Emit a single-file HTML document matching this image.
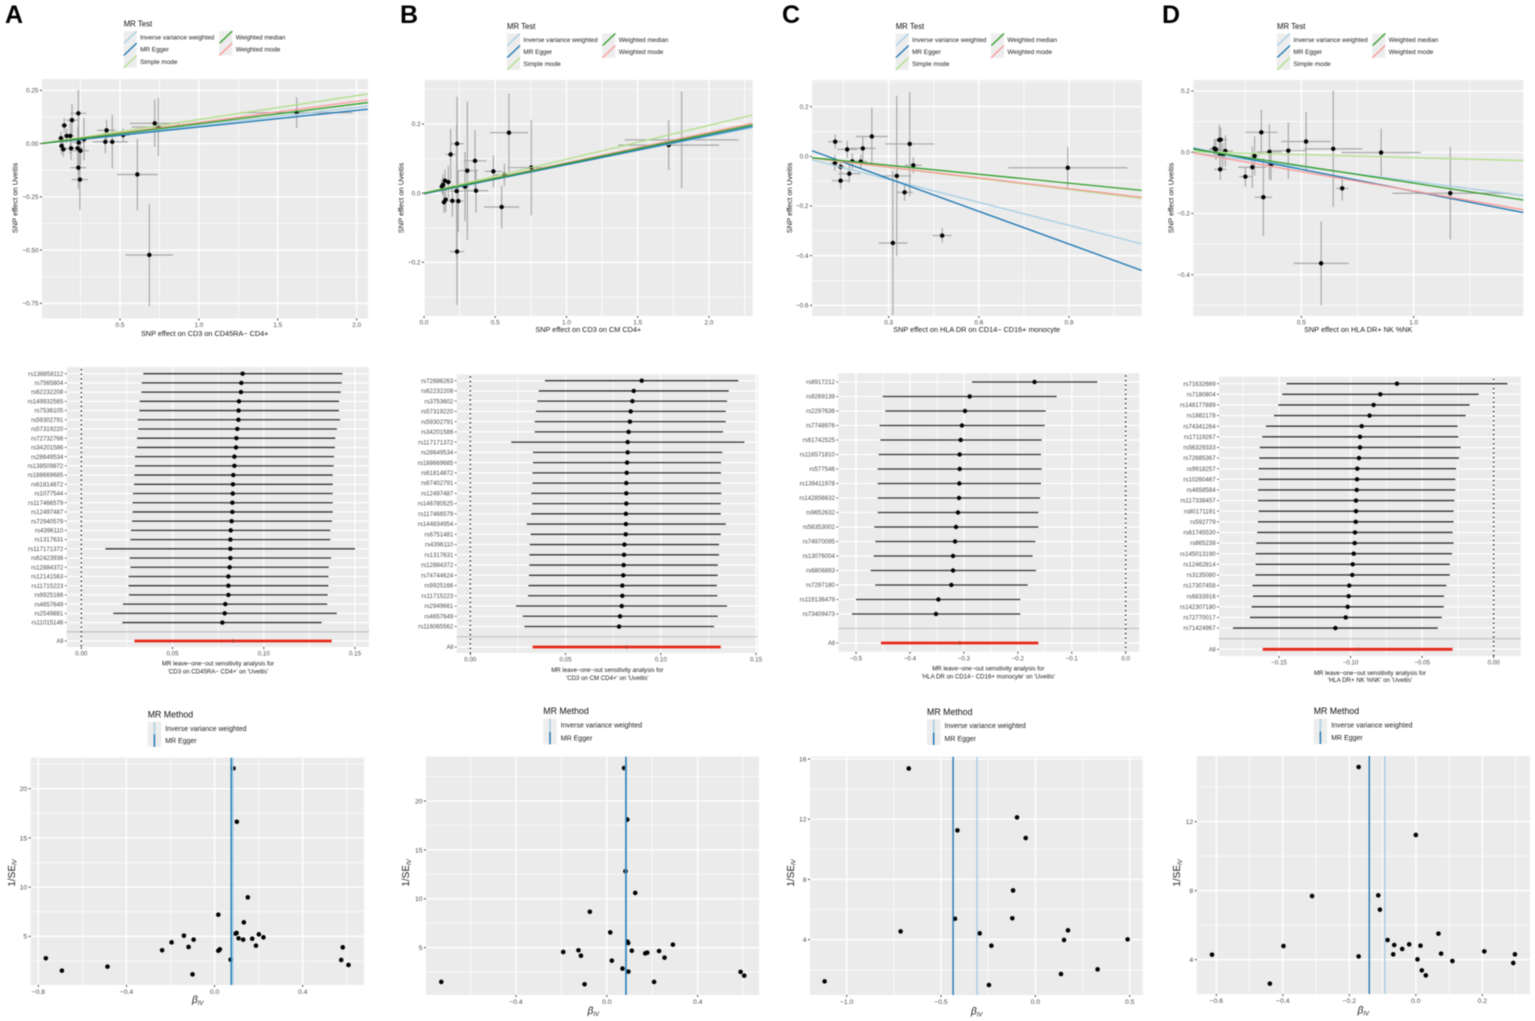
<!DOCTYPE html>
<html lang="en">
<head>
<meta charset="utf-8">
<title>MR scatter, leave-one-out and funnel plots</title>
<style>
html,body{margin:0;padding:0;background:#fff;}
svg{display:block;font-family:"Liberation Sans",Arial,sans-serif;filter:blur(0.4px);}
</style>
</head>
<body>
<svg id="figure" xmlns="http://www.w3.org/2000/svg" width="1535" height="1021" viewBox="0 0 1535 1021">
  <rect width="1535" height="1021" fill="#fff"/>
  <text x="5" y="23" font-size="25" font-weight="bold" fill="#000">A</text>
  <text x="400" y="23" font-size="25" font-weight="bold" fill="#000">B</text>
  <text x="782" y="23" font-size="25" font-weight="bold" fill="#000">C</text>
  <text x="1162" y="23" font-size="25" font-weight="bold" fill="#000">D</text>
  <g id="scatter-a"></g>
  <g id="scatter-b"></g>
  <g id="scatter-c"></g>
  <g id="scatter-d"></g>
  <g id="forest-a"></g>
  <g id="forest-b"></g>
  <g id="forest-c"></g>
  <g id="forest-d"></g>
  <g id="funnel-a"></g>
  <g id="funnel-b"></g>
  <g id="funnel-c"></g>
  <g id="funnel-d"></g>
</svg>
<script>
/* ---------- shared categories ---------- */
const lineMethods = ['Inverse variance weighted','MR Egger','Simple mode','Weighted median','Weighted mode'];
const funnelMethods = ['Inverse variance weighted','MR Egger'];

/* ---------- scatter A ---------- */
const aScatterX = [.686,.61,.72,1.62,.743,.415,.407,.451,.52,.236,.196,.147,.185,.162,.126,.238,.272,.13,.141,.19,.232,.249,.236,.246];
const aScatterY = [-.523,-.145,.095,.145,.078,.0625,.008,.008,.04,.142,.11,.085,.036,.036,.025,.005,.02,-.011,-.027,-.022,-.022,-.034,-.113,-.169];
const aScatterXErr = [.15,.129,.158,.355,.169,.06,.08,.1,.04,.05,.035,.02,.025,.02,.02,.04,.02,.017,.025,.04,.04,.053,.05,.052];
const aScatterYErr = [.24,.168,.11,.072,.137,.048,.053,.125,.03,.11,.075,.035,.085,.035,.03,.15,.1,.04,.035,.055,.1,.065,.1,.143];
const aLineSlopes = [.085,.078,.1125,.093,.099];
const aLineIntercepts = [0,0,0,0,0];
const aScatterXTicks = ['0.5','1.0','1.5','2.0'];
const aScatterYTicks = ['0.25','0.00','−0.25','−0.50','−0.75'];

/* ---------- scatter B ---------- */
const bScatterX = [1.717,1.808,.753,.596,.545,.564,.487,.358,.365,.304,.288,.232,.187,.232,.229,.241,.199,.147,.171,.133,.126,.152,.14];
const bScatterY = [.139,.154,.074,.175,-.04,.053,.063,.0935,.007,.065,.019,.143,.112,-.169,.006,-.023,-.022,.036,.032,.024,.019,-.019,-.026];
const bScatterXErr = [.354,.4,.164,.133,.124,.08,.06,.08,.085,.072,.028,.05,.035,.05,.047,.035,.028,.023,.023,.02,.019,.019,.019];
const bScatterYErr = [.072,.14,.138,.113,.062,.032,.046,.089,.063,.2,.1,.136,.074,.154,.193,.09,.046,.031,.047,.03,.02,.036,.031];
const bLineSlopes = [.0821,.0846,.098,.0857,.0878];
const bLineIntercepts = [0,-.002,0,0,0];
const bScatterXTicks = ['0.0','0.5','1.0','1.5','2.0'];
const bScatterYTicks = ['0.2','0.0','−0.2'];

/* ---------- scatter C ---------- */
const cScatterX = [.896,.478,.314,.327,.353,.37,.382,.244,.214,.162,.122,.121,.14,.14,.169,.179,.207];
const cScatterY = [-.046,-.319,-.349,-.079,-.145,.05,-.036,.08,.032,.028,.059,-.027,-.042,-.098,-.07,-.02,-.021];
const cScatterXErr = [.198,.032,.048,.049,.027,.081,.028,.053,.043,.033,.024,.013,.012,.029,.037,.017,.022];
const cScatterYErr = [.083,.03,.29,.323,.035,.21,.032,.116,.05,.035,.029,.032,.026,.034,.035,.032,.027];
const cLineSlopes = [-.3087,-.4393,-.148,-.12,-.1445];
const cLineIntercepts = [0,.0421,0,0,0];
const cScatterXTicks = ['0.3','0.6','0.9'];
const cScatterYTicks = ['0.2','0.0','−0.2','−0.4','−0.6'];

/* ---------- scatter D ---------- */
const dScatterX = [.588,1.163,.855,.642,.682,.521,.442,.358,.322,.331,.365,.292,.282,.251,.162,.141,.135,.113,.12,.139,.138,.15];
const dScatterY = [-.363,-.134,-.001,.011,-.118,.035,.005,.001,.065,-.147,-.041,-.012,-.049,-.08,.004,.041,.04,.012,.009,-.056,-.008,-.01];
const dScatterXErr = [.123,.258,.177,.13,.028,.11,.08,.056,.072,.039,.022,.018,.062,.027,.033,.03,.018,.022,.03,.027,.015,.015];
const dScatterYErr = [.137,.151,.078,.19,.04,.096,.092,.09,.073,.126,.051,.064,.068,.033,.051,.04,.05,.028,.034,.035,.046,.04];
const dLineSlopes = [-.0952,-.1431,-.0197,-.113,-.1265];
const dLineIntercepts = [0,.0157,.002,.012,0];
const dScatterXTicks = ['0.5','1.0'];
const dScatterYTicks = ['0.2','0.0','−0.2','−0.4'];

/* ---------- leave-one-out A ---------- */
const aForestSnps = ['rs138858112','rs7565804','rs62232208','rs149932565','rs7536105','rs59302791','rs57319220','rs72732766','rs34201586','rs28649534','rs138509872','rs188669685','rs61814872','rs1077544','rs117466579','rs12497487','rs72940579','rs4396110','rs1317631','rs117171372','rs62423936','rs12884372','rs12141563','rs11715223','rs9925166','rs4657649','rs2549881','rs11015146'];
const aForestEst = [.0884,.0877,.0875,.0864,.0862,.0861,.0855,.085,.0848,.0839,.0839,.0833,.0831,.083,.0828,.0828,.0824,.0819,.0817,.0817,.0817,.0813,.0806,.0806,.0806,.0789,.0786,.0773];
const aForestLo = [.034,.0331,.0329,.032,.0318,.0309,.0312,.0305,.0305,.0294,.0294,.0291,.0289,.0283,.0281,.0281,.0278,.0272,.0269,.0132,.0265,.0269,.0259,.0259,.0261,.0228,.0175,.0225];
const aForestHi = [.1431,.1427,.1422,.1412,.1412,.1418,.1401,.1392,.139,.1385,.1383,.1378,.1378,.1378,.1378,.1378,.1374,.1365,.1365,.15,.1369,.1356,.1354,.1354,.135,.1348,.14,.1317];
const aForestAll = [.0291,.0831,.1372];
const aForestTicks = ['0.00','0.05','0.10','0.15'];

/* ---------- leave-one-out B ---------- */
const bForestSnps = ['rs72686263','rs62232208','rs3753602','rs57319220','rs59302791','rs34201586','rs117171372','rs28649534','rs188669685','rs61814872','rs67402791','rs12497487','rs146780525','rs117466579','rs144834954','rs6751481','rs4396110','rs1317631','rs12884372','rs74744624','rs9925166','rs11715223','rs2949661','rs4657649','rs116065562'];
const bForestEst = [.09,.0858,.0851,.0842,.0838,.0831,.0826,.0826,.0823,.0821,.0819,.0819,.0819,.0817,.0817,.0816,.0809,.0807,.0805,.0803,.0798,.0798,.0795,.0786,.0781];
const bForestLo = [.0392,.0359,.0352,.0345,.0338,.0338,.0215,.0329,.0329,.0326,.0326,.032,.0326,.032,.0296,.0317,.0312,.031,.031,.0308,.0305,.0303,.024,.0275,.0284];
const bForestHi = [.1407,.1357,.1348,.1341,.1341,.1327,.1439,.1323,.1316,.1316,.1315,.1318,.1315,.1315,.1341,.1315,.1306,.1306,.1299,.1299,.1294,.1297,.1348,.1299,.128];
const bForestAll = [.0327,.0821,.1315];
const bForestTicks = ['0.00','0.05','0.10','0.15'];

/* ---------- leave-one-out C ---------- */
const cForestSnps = ['rs8917212','rs9269139','rs2297636','rs7748976','rs61742525','rs116571810','rs577546','rs139411978','rs142856632','rs9652632','rs56353002','rs74970095','rs13076004','rs6806893','rs7297180','rs119136479','rs73409473'];
const cForestEst = [-.169,-.2892,-.2979,-.3035,-.3059,-.3078,-.3078,-.3084,-.309,-.3109,-.3146,-.3164,-.3201,-.3201,-.3232,-.3473,-.3517];
const cForestLo = [-.285,-.4506,-.4456,-.4561,-.4549,-.458,-.4598,-.4598,-.4598,-.4598,-.466,-.4642,-.4672,-.4728,-.4642,-.5,-.5074];
const cForestHi = [-.0525,-.128,-.1483,-.1502,-.1557,-.157,-.1557,-.157,-.1588,-.1619,-.1619,-.1675,-.1724,-.1663,-.1817,-.1953,-.1953];
const cForestAll = [-.4536,-.3078,-.1619];
const cForestTicks = ['−0.5','−0.4','−0.3','−0.2','−0.1','0.0'];

/* ---------- leave-one-out D ---------- */
const dForestSnps = ['rs71632669','rs7180804','rs148177889','rs1882178','rs74341264','rs17119267','rs56329333','rs72685367','rs9918257','rs10260467','rs4658584','rs117338457','rs80171191','rs592779','rs61745530','rs865238','rs145013190','rs12462814','rs3135080','rs17307458','rs6833916','rs142307180','rs72770017','rs71424967'];
const dForestEst = [-.0676,-.0792,-.0839,-.0867,-.0922,-.0934,-.0934,-.0941,-.0953,-.0955,-.0957,-.0962,-.0962,-.0964,-.0969,-.0971,-.0978,-.0985,-.0988,-.1009,-.1013,-.102,-.1034,-.1106];
const dForestLo = [-.1447,-.1477,-.1505,-.1535,-.1591,-.1617,-.1635,-.1638,-.1642,-.1642,-.1647,-.1647,-.1642,-.1647,-.1652,-.1659,-.1663,-.1663,-.1665,-.1686,-.1682,-.1691,-.1703,-.1822];
const dForestHi = [.0096,-.0105,-.0168,-.0196,-.0252,-.0247,-.0231,-.0242,-.0263,-.0268,-.0268,-.0275,-.028,-.028,-.0287,-.028,-.0291,-.0307,-.0307,-.0331,-.0347,-.0349,-.0363,-.0391];
const dForestAll = [-.1614,-.095,-.0287];
const dForestTicks = ['−0.15','−0.10','−0.05','0.00'];

/* ---------- funnel A ---------- */
const aFunnelX = [-.766,-.693,-.486,-.238,-.195,-.139,-.118,-.095,-.1,.017,.017,.024,.073,.086,.101,.095,.1,.109,.13,.133,.151,.171,.188,.201,.222,.575,.582,.608];
const aFunnelY = [2.77,1.51,1.92,3.58,4.39,5.07,3.92,4.66,1.14,7.2,3.54,3.68,2.63,22.06,16.64,5.27,5.34,4.8,4.66,6.42,8.96,4.76,4.05,5.2,4.9,2.6,3.88,2.09];
const aFunnelLines = [.0831,.0755];
const aFunnelXTicks = ['−0.8','−0.4','0.0','0.4'];
const aFunnelYTicks = ['5','10','15','20'];

/* ---------- funnel B ---------- */
const bFunnelX = [-.729,-.192,-.125,-.114,-.098,-.075,.015,.022,.069,.076,.082,.09,.091,.094,.095,.11,.125,.169,.178,.208,.23,.254,.291,.589,.605];
const bFunnelY = [1.5,4.56,4.73,4.18,1.26,8.67,6.56,3.67,2.86,23.37,12.82,18.1,5.61,5.48,2.55,4.69,10.6,4.42,4.49,1.5,4.66,3.98,5.31,2.52,2.14];
const bFunnelLines = [.0825,.0846];
const bFunnelXTicks = ['−0.4','0.0','0.4'];
const bFunnelYTicks = ['5','10','15','20'];

/* ---------- funnel C ---------- */
const cFunnelX = [-1.117,-.714,-.671,-.426,-.413,-.295,-.246,-.233,-.118,-.122,-.097,-.051,.136,.152,.173,.33,.489];
const cFunnelY = [1.23,4.55,15.37,5.39,11.26,4.42,.99,3.6,7.27,5.42,12.12,10.75,1.72,3.98,4.62,2.03,4.02];
const cFunnelLines = [-.309,-.436];
const cFunnelXTicks = ['−1.0','−0.5','0.0','0.5'];
const cFunnelYTicks = ['4','8','12','16'];

/* ---------- funnel D ---------- */
const dFunnelX = [-.613,-.439,-.398,-.312,-.172,-.172,-.113,-.108,-.085,-.065,-.068,-.041,-.02,0,.005,.014,.018,.03,.068,.076,.11,.206,.293,.298];
const dFunnelY = [4.29,2.61,4.79,7.69,15.17,4.19,7.73,6.9,5.14,4.85,4.31,4.62,4.89,11.23,4.02,4.81,3.38,3.09,5.51,4.35,3.92,4.48,3.81,4.31];
const dFunnelLines = [-.0933,-.14];
const dFunnelXTicks = ['−0.6','−0.4','−0.2','0.0','0.2'];
const dFunnelYTicks = ['4','8','12'];

/* ---------- styling ---------- */
const NS = 'http://www.w3.org/2000/svg';
const lineColors = ['#A6CEE3','#1F78B4','#B2DF8A','#33A02C','#FB9A99'];
const PANEL_BG = '#EBEBEB', KEY_BG = '#EDEDED', TICK_TEXT = '#4D4D4D', TITLE_TEXT = '#1a1a1a';

function add(parent, tag, attrs, str) {
  const el = document.createElementNS(NS, tag);
  for (const k in attrs) el.setAttribute(k, attrs[k]);
  if (str !== undefined) el.textContent = str;
  parent.appendChild(el);
  return el;
}
function scale(v1, p1, v2, p2) {
  const f = v => p1 + (v - v1) * (p2 - p1) / (v2 - v1);
  f.inv = p => v1 + (p - p1) * (v2 - v1) / (p2 - p1);
  return f;
}
function num(label) { return Number(label.replace('−', '-')); }
function label(parent, x, y, str, size, anchor, fill) {
  return add(parent, 'text', {x: x.toFixed(2), y: (y + size * 0.35).toFixed(2), 'font-size': size, 'text-anchor': anchor, fill: fill}, str);
}
function minors(vals, lo, hi) {
  if (vals.length < 2) return [];
  const s = Math.abs(vals[1] - vals[0]);
  const out = [];
  const start = Math.min.apply(null, vals) - s / 2 - s * 10;
  for (let i = 0; i < 40; i++) {
    const v = start + i * s;
    if (v > Math.min(lo, hi) && v < Math.max(lo, hi)) out.push(v);
  }
  return out;
}

/* panel background + grid + x ticks */
function drawFrame(g, r, sx, xLabels, tickSize) {
  const bg = add(g, 'rect', {x: r.l, y: r.t, width: r.r - r.l, height: r.b - r.t, fill: PANEL_BG});
  
  
  const xv = xLabels.map(num);
  minors(xv, sx.inv(r.l), sx.inv(r.r)).forEach(v => {
    const ln = add(g, 'line', {x1: sx(v), x2: sx(v), y1: r.t, y2: r.b, stroke: '#fff', 'stroke-width': 0.7});
    
    
  });
  xv.forEach((v, i) => {
    const ln = add(g, 'line', {x1: sx(v), x2: sx(v), y1: r.t, y2: r.b, stroke: '#fff', 'stroke-width': 1.3});
    
    
    const tk = add(g, 'line', {x1: sx(v), x2: sx(v), y1: r.b, y2: r.b + 2, stroke: '#333', 'stroke-width': 0.9});
    
    
    const t = label(g, sx(v), r.b + 6.4, xLabels[i], tickSize, 'middle', TICK_TEXT);
    
    
  });
}
function drawYAxis(g, r, sy, yLabels, tickSize) {
  const yv = yLabels.map(num);
  minors(yv, sy.inv(r.b), sy.inv(r.t)).forEach(v => {
    const ln = add(g, 'line', {x1: r.l, x2: r.r, y1: sy(v), y2: sy(v), stroke: '#fff', 'stroke-width': 0.7});
    
    
  });
  yv.forEach((v, i) => {
    const ln = add(g, 'line', {x1: r.l, x2: r.r, y1: sy(v), y2: sy(v), stroke: '#fff', 'stroke-width': 1.3});
    
    
    const tk = add(g, 'line', {x1: r.l - 2, x2: r.l, y1: sy(v), y2: sy(v), stroke: '#333', 'stroke-width': 0.9});
    
    
    const t = label(g, r.l - 3.5, sy(v), yLabels[i], tickSize, 'end', TICK_TEXT);
    
    
  });
}

/* scatter plot */
function drawScatter(c) {
  const g = document.getElementById(c.id), r = c.rect, sx = c.sx, sy = c.sy;
  drawFrame(g, r, sx, c.xTicks, 6.4);
  drawYAxis(g, r, sy, c.yTicks, 6.4);
  c.x.forEach((v, i) => {
    const h = add(g, 'line', {x1: sx(v - c.xErr[i]), x2: sx(v + c.xErr[i]), y1: sy(c.y[i]), y2: sy(c.y[i]), stroke: '#A8A8A8', 'stroke-width': 1.2});
    
    
    const w = add(g, 'line', {x1: sx(v), x2: sx(v), y1: sy(c.y[i] - c.yErr[i]), y2: sy(c.y[i] + c.yErr[i]), stroke: '#A8A8A8', 'stroke-width': 1.2});
    
    
  });
  c.x.forEach((v, i) => {
    const p = add(g, 'circle', {cx: sx(v), cy: sy(c.y[i]), r: 2.2, fill: '#000'});
    
    
  });
  const x0 = sx.inv(r.l), x1 = sx.inv(r.r);
  [2, 0, 1, 4, 3].forEach(m => {
    const ln = add(g, 'line', {x1: r.l, x2: r.r, y1: sy(c.intercepts[m] + c.slopes[m] * x0), y2: sy(c.intercepts[m] + c.slopes[m] * x1), stroke: lineColors[m], 'stroke-width': 1.35});
    
    
  });
  const xt = label(g, c.xTitle[1], c.xTitle[2], c.xTitle[0], 7.3, 'middle', TITLE_TEXT);
  
  
  const yt = add(g, 'text', {transform: 'translate(' + c.yTitleX + ',198) rotate(-90)', 'font-size': 7.5, 'text-anchor': 'middle', fill: TITLE_TEXT, y: 2.6}, 'SNP effect on Uveitis');
  
  
  /* legend */
  const L = c.legend;
  const lt = label(g, L.x, L.titleY, 'MR Test', 7.8, 'start', '#111');
  
  
  lineMethods.forEach((name, i) => {
    const col2 = i > 2;
    const kx = col2 ? L.x2 : L.x;
    const cy = L.rows[col2 ? i - 3 : i];
    const key = add(g, 'rect', {x: kx, y: cy - 6.2, width: 13, height: 12.4, fill: KEY_BG});
    
    
    const sw = add(g, 'line', {x1: kx, y1: cy + 6.2, x2: kx + 13, y2: cy - 6.2, stroke: lineColors[i], 'stroke-width': 1.35});
    
    
    const tx = label(g, kx + 16.4, cy, name, 6.4, 'start', '#222');
    
    
  });
}

/* leave-one-out forest plot */
function drawForest(c) {
  const g = document.getElementById(c.id), r = c.rect, sx = c.sx;
  drawFrame(g, r, sx, c.ticks, 6.2);
  const n = c.snps.length + 2;
  const rowY = i => c.firstRow + i * (c.lastRow - c.firstRow) / (n - 1);
  for (let i = 0; i < n; i++) {
    const ln = add(g, 'line', {x1: r.l, x2: r.r, y1: rowY(i), y2: rowY(i), stroke: i === n - 2 ? '#BEBEBE' : '#fff', 'stroke-width': i === n - 2 ? 1.1 : 1.2});
    
    
    if (i !== n - 2) {
      const tk = add(g, 'line', {x1: r.l - 2, x2: r.l, y1: rowY(i), y2: rowY(i), stroke: '#333', 'stroke-width': 0.7});
      
      
    }
  }
  const zero = add(g, 'line', {x1: sx(0), x2: sx(0), y1: r.t + 2, y2: r.b, stroke: '#000', 'stroke-width': 1.3, 'stroke-dasharray': '1.3 3.3'});
  
  
  c.snps.forEach((s, i) => {
    const t = label(g, r.l - 3.4, rowY(i), s, 6.1, 'end', TICK_TEXT);
    
    
    const ci = add(g, 'line', {x1: sx(c.lo[i]), x2: sx(c.hi[i]), y1: rowY(i), y2: rowY(i), stroke: '#333', 'stroke-width': 1.3});
    
    
    const p = add(g, 'circle', {cx: sx(c.est[i]), cy: rowY(i), r: 2.2, fill: '#000'});
    
    
  });
  const allY = rowY(n - 1);
  const at = label(g, r.l - 3.4, allY, 'All', 6.1, 'end', TICK_TEXT);
  
  
  const allCi = add(g, 'line', {x1: sx(c.all[0]), x2: sx(c.all[2]), y1: allY, y2: allY, stroke: '#E8281A', 'stroke-width': 2.8});
  
  
  const allP = add(g, 'circle', {cx: sx(c.all[1]), cy: allY, r: 1.7, fill: '#C83A2C'});
  
  
  c.title.forEach((s, i) => {
    const t = label(g, c.titleX, c.titleY[i], s, 6.1, 'middle', TITLE_TEXT);
    
    
  });
}

/* funnel plot */
function drawFunnel(c) {
  const g = document.getElementById(c.id), r = c.rect, sx = c.sx, sy = c.sy;
  drawFrame(g, r, sx, c.xTicks, 6.8);
  drawYAxis(g, r, sy, c.yTicks, 6.8);
  c.x.forEach((v, i) => {
    const p = add(g, 'circle', {cx: sx(v), cy: sy(c.y[i]), r: 2.3, fill: '#000'});
    
    
  });
  c.lines.forEach((v, i) => {
    const ln = add(g, 'line', {x1: sx(v), x2: sx(v), y1: r.t, y2: r.b, stroke: lineColors[i], 'stroke-width': 1.4});
    
    
  });
  const xt = add(g, 'text', {x: c.xTitle[0], y: c.xTitle[1] + 3, 'font-size': 10, 'text-anchor': 'middle', fill: TITLE_TEXT, 'font-style': 'italic'});
  
  
  add(xt, 'tspan', {}, 'β');
  add(xt, 'tspan', {'font-size': 6, dy: 1.8}, 'IV');
  const yt = add(g, 'text', {transform: 'translate(' + c.yTitleX + ',873) rotate(-90)', 'font-size': 10, 'text-anchor': 'middle', fill: TITLE_TEXT, y: 3.2});
  
  
  add(yt, 'tspan', {}, '1/SE');
  add(yt, 'tspan', {'font-size': 6, dy: 1.8, 'font-style': 'italic'}, 'IV');
  const L = c.legend;
  const lt = label(g, L.x, L.titleY, 'MR Method', 8.8, 'start', '#111');
  
  
  funnelMethods.forEach((name, i) => {
    const cy = L.rows[i];
    const key = add(g, 'rect', {x: L.x, y: cy - 6.3, width: 13.4, height: 12.6, fill: KEY_BG});
    
    
    const sw = add(g, 'line', {x1: L.x + 6.7, x2: L.x + 6.7, y1: cy - 6.3, y2: cy + 6.3, stroke: lineColors[i], 'stroke-width': 1.5});
    
    
    const tx = label(g, L.x + 17.5, cy, name, 7, 'start', '#222');
    
    
  });
}

/* ---------- scatter panels ---------- */
drawScatter({id:'scatter-a', rect:{l:42,r:368,t:79,b:318.5}, sx:scale(.5,120,2,356.67), sy:scale(.25,90.33,-.75,303.33),
  x:aScatterX, y:aScatterY, xErr:aScatterXErr, yErr:aScatterYErr, slopes:aLineSlopes, intercepts:aLineIntercepts,
  xTicks:aScatterXTicks, yTicks:aScatterYTicks, xTitle:['SNP effect on CD3 on CD45RA− CD4+',204.7,333.3], yTitleX:15,
  legend:{x:123.7,x2:219.3,titleY:24,rows:[37.3,49.3,61.7]}});
drawScatter({id:'scatter-b', rect:{l:424,r:752.7,t:80,b:316}, sx:scale(0,424,2,709), sy:scale(.2,124,-.2,262.33),
  x:bScatterX, y:bScatterY, xErr:bScatterXErr, yErr:bScatterYErr, slopes:bLineSlopes, intercepts:bLineIntercepts,
  xTicks:bScatterXTicks, yTicks:bScatterYTicks, xTitle:['SNP effect on CD3 on CM CD4+',588.3,329.3], yTitleX:400.7,
  legend:{x:507,x2:602.3,titleY:26.3,rows:[39.7,51.7,63.7]}});
drawScatter({id:'scatter-c', rect:{l:812,r:1141.7,t:80,b:316}, sx:scale(.3,888.67,.9,1069), sy:scale(.2,106.67,-.6,305.33),
  x:cScatterX, y:cScatterY, xErr:cScatterXErr, yErr:cScatterYErr, slopes:cLineSlopes, intercepts:cLineIntercepts,
  xTicks:cScatterXTicks, yTicks:cScatterYTicks, xTitle:['SNP effect on HLA DR on CD14− CD16+ monocyte',976.7,329.3], yTitleX:789.3,
  legend:{x:895.7,x2:991,titleY:26.3,rows:[39.7,51.7,63.7]}});
drawScatter({id:'scatter-d', rect:{l:1193.3,r:1523.3,t:80,b:316}, sx:scale(.5,1301.33,1,1413.67), sy:scale(.2,91,-.4,274.67),
  x:dScatterX, y:dScatterY, xErr:dScatterXErr, yErr:dScatterYErr, slopes:dLineSlopes, intercepts:dLineIntercepts,
  xTicks:dScatterXTicks, yTicks:dScatterYTicks, xTitle:['SNP effect on HLA DR+ NK %NK',1358.3,329.3], yTitleX:1170.7,
  legend:{x:1277,x2:1372.3,titleY:26.3,rows:[39.7,51.7,63.7]}});

/* ---------- leave-one-out panels ---------- */
drawForest({id:'forest-a', rect:{l:66.7,r:369,t:367,b:647}, sx:scale(0,81.33,.15,355), firstRow:373.67, lastRow:641,
  snps:aForestSnps, est:aForestEst, lo:aForestLo, hi:aForestHi, all:aForestAll, ticks:aForestTicks,
  title:['MR leave−one−out sensitivity analysis for',"'CD3 on CD45RA− CD4+' on 'Uveitis'"], titleX:218, titleY:[663.3,671.3]});
drawForest({id:'forest-b', rect:{l:456.7,r:757.7,t:374.3,b:653}, sx:scale(0,470.33,.15,756), firstRow:380.67, lastRow:647,
  snps:bForestSnps, est:bForestEst, lo:bForestLo, hi:bForestHi, all:bForestAll, ticks:bForestTicks,
  title:['MR leave−one−out sensitivity analysis for',"'CD3 on CM CD4+' on 'Uveitis'"], titleX:607.3, titleY:[670,677.7]});
drawForest({id:'forest-c', rect:{l:838.3,r:1139.3,t:373.3,b:651.7}, sx:scale(-.5,856,0,1125.67), firstRow:382, lastRow:643,
  snps:cForestSnps, est:cForestEst, lo:cForestLo, hi:cForestHi, all:cForestAll, ticks:cForestTicks,
  title:['MR leave−one−out sensitivity analysis for',"'HLA DR on CD14− CD16+ monocyte' on 'Uveitis'"], titleX:988.3, titleY:[668.3,676.3]});
drawForest({id:'forest-d', rect:{l:1219,r:1520.7,t:376.7,b:656}, sx:scale(-.15,1279,0,1493.67), firstRow:383.67, lastRow:649.33,
  snps:dForestSnps, est:dForestEst, lo:dForestLo, hi:dForestHi, all:dForestAll, ticks:dForestTicks,
  title:['MR leave−one−out sensitivity analysis for',"'HLA DR+ NK %NK' on 'Uveitis'"], titleX:1370, titleY:[672.7,680]});

/* ---------- funnel panels ---------- */
drawFunnel({id:'funnel-a', rect:{l:30.7,r:364,t:757.7,b:985}, sx:scale(-.8,38.33,.4,302.67), sy:scale(20,788.67,5,936.33),
  x:aFunnelX, y:aFunnelY, lines:aFunnelLines, xTicks:aFunnelXTicks, yTicks:aFunnelYTicks, xTitle:[197.7,1000], yTitleX:11.7,
  legend:{x:147.7,titleY:714.3,rows:[728.3,740.6]}});
drawFunnel({id:'funnel-b', rect:{l:426,r:759,t:756.7,b:995}, sx:scale(-.4,516,.4,697.67), sy:scale(20,801,5,947.67),
  x:bFunnelX, y:bFunnelY, lines:bFunnelLines, xTicks:bFunnelXTicks, yTicks:bFunnelYTicks, xTitle:[593.3,1011], yTitleX:406,
  legend:{x:543.3,titleY:711,rows:[725,738]}});
drawFunnel({id:'funnel-c', rect:{l:810,r:1142.7,t:756.7,b:995}, sx:scale(-1,846.67,.5,1129.67), sy:scale(16,759,4,939.67),
  x:cFunnelX, y:cFunnelY, lines:cFunnelLines, xTicks:cFunnelXTicks, yTicks:cFunnelYTicks, xTitle:[976.7,1011.7], yTitleX:790.7,
  legend:{x:927,titleY:711.7,rows:[725.7,738.7]}});
drawFunnel({id:'funnel-d', rect:{l:1196.7,r:1530,t:756,b:994}, sx:scale(-.6,1216.33,.2,1482.33), sy:scale(12,821.67,4,959.67),
  x:dFunnelX, y:dFunnelY, lines:dFunnelLines, xTicks:dFunnelXTicks, yTicks:dFunnelYTicks, xTitle:[1363.3,1010.7], yTitleX:1177,
  legend:{x:1313.7,titleY:710.7,rows:[725,737.7]}});
</script>
</body>
</html>
